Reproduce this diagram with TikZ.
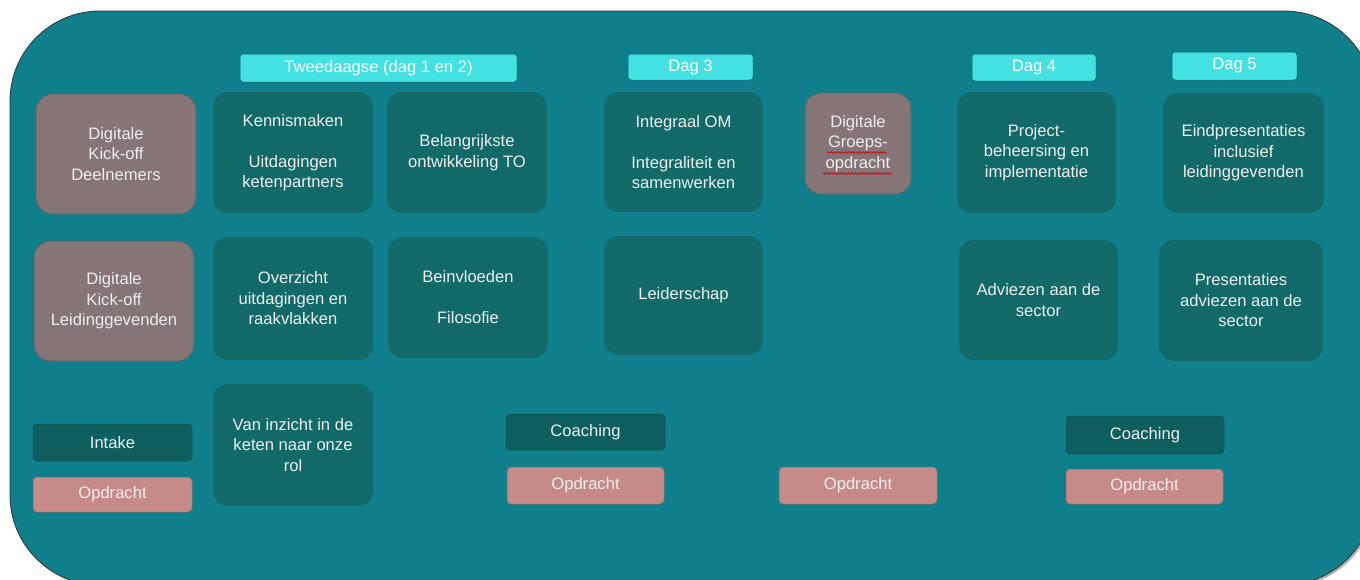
\documentclass[tikz,border=0pt]{standalone}
\usepackage{fontspec}
\setmainfont{Liberation Sans}
\usetikzlibrary{decorations.pathmorphing}
\definecolor{bgteal}{HTML}{0F7F8C}
\definecolor{darkbox}{HTML}{116A67}
\definecolor{brownbox}{HTML}{857577}
\definecolor{cyanbox}{HTML}{43E1E1}
\definecolor{pinkbox}{HTML}{C68A88}
\definecolor{smallbox}{HTML}{0E5E5E}
\definecolor{txt}{HTML}{EEEEEE}
\tikzset{
  base/.style={inner sep=0pt, align=center, text=txt, font=\fontsize{16.6}{20.5}\selectfont},
  bigbox/.style={base, fill=darkbox, rounded corners=15pt},
  brownb/.style={base, fill=brownbox, draw=brownbox!80!black, line width=0.6pt, rounded corners=17pt},
  header/.style={base, fill=cyanbox, draw=bgteal!70!black, line width=0.5pt, rounded corners=3pt, text=white},
  pinkb/.style={base, fill=pinkbox, draw=pinkbox!75!black, line width=0.5pt, rounded corners=4pt},
  darksmall/.style={base, fill=smallbox, draw=smallbox!85!black, line width=0.5pt, rounded corners=4pt},
  squiggle/.style={red!85!black, line width=0.7pt, decorate, decoration={snake, amplitude=0.9pt, segment length=3.5pt}}
}
\begin{document}
\begin{tikzpicture}[x=1pt,y=-1pt]
\useasboundingbox (0,0) rectangle (1360,579);
\fill[white] (0,0) rectangle (1360,579);
\fill[black!30, rounded corners=90pt] (12,13) rectangle (1376,587);
\draw[fill=bgteal, draw=black!80, line width=0.8pt, rounded corners=90pt] (10,11) rectangle (1374,585);

% headers
\node[header, minimum width=277pt, minimum height=28pt] (h12) at (378.5,68) {Tweedaagse (dag 1 en 2)};
\node[header, minimum width=125pt, minimum height=26pt] (h3) at (690.5,67) {Dag 3};
\node[header, minimum width=124pt, minimum height=27pt] (h4) at (1034,67.5) {Dag 4};
\node[header, minimum width=125pt, minimum height=28pt] (h5) at (1234.5,66) {Dag 5};

% row 1
\node[brownb, minimum width=160pt, minimum height=120pt] (kod) at (116,154) {Digitale\\Kick-off\\Deelnemers};
\node[bigbox, minimum width=160pt, minimum height=121pt] (kenn) at (293,152.5) {Kennismaken\\\mbox{}\\Uitdagingen\\ketenpartners};
\node[bigbox, minimum width=160pt, minimum height=121pt] (bel) at (467,152.5) {Belangrijkste\\ontwikkeling TO};
\node[bigbox, minimum width=159pt, minimum height=120pt] (int) at (683.5,152) {Integraal OM\\\mbox{}\\Integraliteit en\\samenwerken};
\node[brownb, minimum width=106pt, minimum height=101pt, rounded corners=16pt] (grp) at (858,143.5) {Digitale\\Groeps-\\opdracht};
\node[bigbox, minimum width=159pt, minimum height=121pt] (proj) at (1036.5,152.5) {Project-\\beheersing en\\implementatie};
\node[bigbox, minimum width=161pt, minimum height=120pt] (eind) at (1243.5,153) {Eindpresentaties\\inclusief\\leidinggevenden};

% row 2
\node[brownb, minimum width=160pt, minimum height=120pt] (kol) at (114,301) {Digitale\\Kick-off\\Leidinggevenden};
\node[bigbox, minimum width=160pt, minimum height=123pt] (ovz) at (293,298.5) {Overzicht\\uitdagingen en\\raakvlakken};
\node[bigbox, minimum width=160pt, minimum height=121pt] (bei) at (468,297.5) {Beinvloeden\\\mbox{}\\Filosofie};
\node[bigbox, minimum width=159pt, minimum height=119pt] (lei) at (683.5,295.5) {Leiderschap};
\node[bigbox, minimum width=159pt, minimum height=120pt] (adv) at (1038.5,300) {Adviezen aan de\\sector};
\node[bigbox, minimum width=164pt, minimum height=121pt] (pres) at (1241,300.5) {Presentaties\\adviezen aan de\\sector};

% row 3
\node[darksmall, minimum width=159pt, minimum height=37pt] (intake) at (112.5,442.5) {Intake};
\node[pinkb, minimum width=159pt, minimum height=35pt] (op1) at (112.5,494.5) {Opdracht};
\node[bigbox, minimum width=160pt, minimum height=122pt] (van) at (293,445) {Van inzicht in de\\keten naar onze\\rol};
\node[darksmall, minimum width=159pt, minimum height=36pt] (coach1) at (585.5,432) {Coaching};
\node[pinkb, minimum width=157pt, minimum height=37pt] (op2) at (585.5,485.5) {Opdracht};
\node[pinkb, minimum width=158pt, minimum height=37pt] (op3) at (858,485.5) {Opdracht};
\node[darksmall, minimum width=158pt, minimum height=38pt] (coach2) at (1145,435) {Coaching};
\node[pinkb, minimum width=157pt, minimum height=35pt] (op4) at (1144.5,486.5) {Opdracht};

% spell-check squiggles
\draw[squiggle] (827,152.5) -- (887,152.5);
\draw[squiggle] (823,173.5) -- (892,173.5);
\end{tikzpicture}
\end{document}
